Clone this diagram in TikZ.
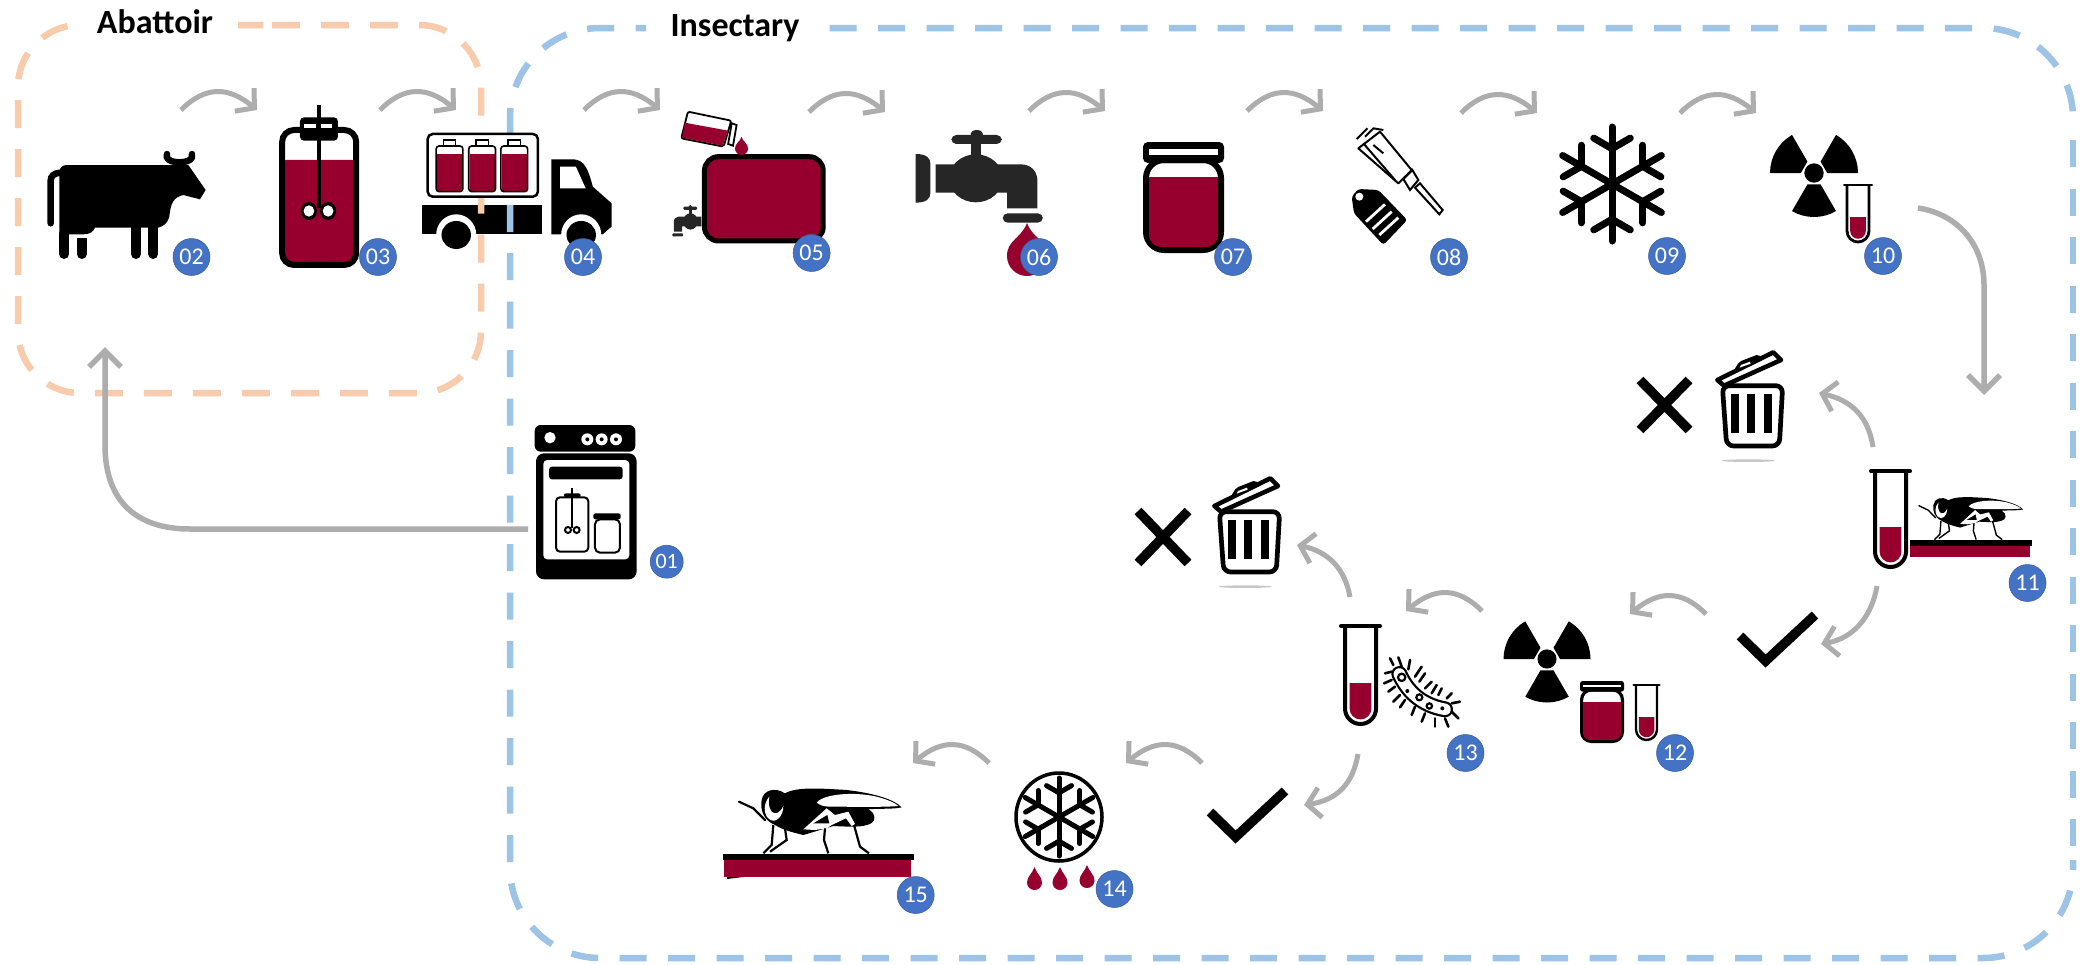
\documentclass[tikz,border=0pt]{standalone}
\usepackage{fontspec}
\setmainfont{Carlito}
\usetikzlibrary{arrows.meta}
\definecolor{crim}{HTML}{97002E}
\definecolor{peach}{HTML}{F8CBAD}
\definecolor{skyb}{HTML}{9DC3E6}
\definecolor{arrowg}{HTML}{ADADAD}
\definecolor{badgeb}{HTML}{4472C4}
\definecolor{tapc}{HTML}{262626}
\tikzset{
  x=1pt,y=-1pt,
  zA/.style={x=.4464pt,y=-.3333pt},
  zC/.style={x=.3745pt,y=-.3333pt},
  zF/.style={x=.3333pt,y=-.3333pt},
  badge/.style={circle,fill=badgeb,draw=badgeb!80!black,line width=.5pt,minimum size=37pt,inner sep=0pt,text=white,font=\fontsize{24}{24}\selectfont},
  boxlabel/.style={fill=white,anchor=base,inner xsep=0pt,inner ysep=3pt,font=\fontsize{34}{36}\selectfont\bfseries},
  peachline/.style={draw=peach,line width=6.5pt,dash pattern=on 28pt off 21pt,rounded corners=62pt},
  skyline/.style={draw=skyb,line width=6.5pt,dash pattern=on 27pt off 21.5pt,rounded corners=90pt},
  garrow/.style={draw=arrowg,line width=5pt,-{Straight Barb[length=13pt,width=30pt,line width=5pt]}},
  garrowlong/.style={draw=arrowg,line width=5.5pt,-{Straight Barb[length=16pt,width=32pt,line width=5.5pt]}},
}
% id, start, c1, c2, end
\newcommand\curvearrow[5]{%
  \coordinate (#1s) at (#2);\coordinate (#1e) at (#5);
  \draw[garrow] (#1s) .. controls (#3) and (#4) .. (#1e);}
\newcommand\arcright[3]{% id x y : left to right hump
  \curvearrow{#1}{#2,#3}{#2+24,#3-24}{#2+47,#3-24}{#2+76,#3}}
\newcommand\arcleft[3]{% id x y : right to left hump
  \curvearrow{#1}{#2,#3}{#2-24,#3-24}{#2-47,#3-24}{#2-76,#3}}
\newcommand\tubeicon[6]{% xl xr yt yb yliq lw
  \pgfmathsetmacro\tbR{(#2-#1)/2}
  \pgfmathsetmacro\tbG{#6*1.15}
  \pgfmathsetmacro\tbI{\tbR-\tbG}
  \draw[line width=#6pt,fill=white] (#1,#3) -- (#1,#4-\tbR) arc[start angle=180,end angle=0,radius=\tbR] -- (#2,#3);
  \draw[line width=#6pt,line cap=round] (#1-#6,#3) -- (#2+#6,#3);
  \fill[crim] (#1+\tbG,#5) -- (#1+\tbG,#4-\tbR) arc[start angle=180,end angle=0,radius=\tbI] -- (#2-\tbG,#5) -- cycle;}
\newcommand\jaricon[7]{% xl xr ylidtop ylidbot ybot yliq lw
  \draw[line width=#7pt,fill=white,rounded corners=#7*3pt] (#1+#7*.5,#4) -- (#1+#7*.5,#5-#7*.5) -- (#2-#7*.5,#5-#7*.5) -- (#2-#7*.5,#4) -- cycle;
  \fill[crim,rounded corners=#7*2pt] (#1+#7,#6) -- (#1+#7,#5-#7) -- (#2-#7,#5-#7) -- (#2-#7,#6) -- cycle;
  \fill[crim] (#1+#7,#6) rectangle (#2-#7,#6+#7*3);
  \fill[rounded corners=#7*.8pt] (#1,#3) rectangle (#2,#4+#7*.5);
  \fill[white] (#1+#7,#3+#7*1.1) rectangle (#2-#7,#4-#7*.8);}
\newcommand\radiation[3]{% cx cy R
  \begin{scope}[shift={(#1,#2)}]
  \fill (0,0) circle[radius=.22*#3];
  \foreach \ra in {60,180,300}{
    \fill (\ra:#3*.30) -- (\ra:#3) arc[start angle=\ra,end angle=\ra+60,radius=#3] -- (\ra+60:#3*.30) -- cycle;}
  \end{scope}}
\newcommand\flake[4]{% cx cy R lw
  \begin{scope}[shift={(#1,#2)},line width=#4pt,line cap=round]
  \foreach \fa in {30,90,150,210,270,330}{
    \draw (0,0) -- (\fa:#3);
    \draw (\fa:#3*.62) -- ++(\fa+60:#3*.37);
    \draw (\fa:#3*.62) -- ++(\fa-60:#3*.37);}
  \end{scope}}
\newcommand\dropicon[4]{% cx ytop ybot w
  \fill[crim] (#1,#2) .. controls (#1+.15*#4,#2+.3*#3-.3*#2) and (#1+.5*#4,#3-.9*#4) .. (#1+.5*#4,#3-.5*#4)
    arc[start angle=0,end angle=180,radius=.5*#4]
    .. controls (#1-.5*#4,#3-.9*#4) and (#1-.15*#4,#2+.3*#3-.3*#2) .. cycle;}
\newcommand\tapbody[1]{% corner radius
  \fill[tapc] (640,253) -- (830,253) .. controls (855,253) and (868,275) .. (868,305) -- (868,385) -- (800,385) -- (800,338) -- (640,338) -- cycle;
  \fill[tapc] (730,295) ellipse[x radius=60,y radius=72];
  \fill[tapc] (718,180) rectangle (742,235);
  \fill[tapc,rounded corners=#1] (675,165) rectangle (788,192);
  \fill[tapc] (732,162) ellipse[x radius=14,y radius=12];
  \fill[tapc,rounded corners=#1] (790,400) rectangle (880,428);}
\newcommand\trashicon[2]{% origin x y of a 3x crop
  \begin{scope}[shift={(#1,#2)},zF]
  \draw[line width=4.7pt,rounded corners=7pt,fill=white] (67,122) -- (248,122) -- (238,303) -- (80,303) -- cycle;
  \foreach \bx in {105,153,203}{\draw[line width=8pt] (\bx,148) -- (\bx,265);}
  \draw[line width=4.5pt,fill=white,line join=round] (52,105) -- (220,22) -- (243,45) -- (72,122) -- cycle;
  \fill[rounded corners=2pt] (102,75) -- (118,50) -- (175,28) -- (190,45) -- cycle;
  \fill[white] (119,68) -- (123,60) -- (150,50) -- (152,56) -- cycle;
  \fill[black!22] (145,347) ellipse[x radius=80,y radius=4];
  \end{scope}}
\newcommand\flyicon[5]{% ox oy xunit yunit lw
  \begin{scope}[shift={(#1,#2)},x=#3pt,y=-#4pt]
  \fill (125,90) .. controls (130,60) and (165,50) .. (195,70) .. controls (230,50) and (300,55) .. (380,60) .. controls (450,68) and (520,85) .. (545,112) .. controls (520,118) and (480,115) .. (445,118) .. controls (470,130) and (470,160) .. (440,165) .. controls (420,172) and (380,170) .. (340,168) -- (300,180) -- (250,195) .. controls (210,185) and (190,180) .. (165,165) .. controls (130,150) and (120,120) .. (125,90) -- cycle;
  \fill[white] (290,98) .. controls (310,72) and (400,64) .. (470,80) .. controls (500,88) and (525,98) .. (535,108) .. controls (490,112) and (400,110) .. (330,110) .. controls (310,110) and (300,105) .. (290,98) -- cycle;
  \fill[white] (148,80) .. controls (130,100) and (130,130) .. (145,145) .. controls (165,165) and (190,140) .. (190,108) .. controls (180,130) and (165,135) .. (155,125) .. controls (145,110) and (145,95) .. (148,80) -- cycle;
  \fill[white] (250,178) -- (320,115) -- (345,135) -- (385,125) -- (405,162) -- (395,168) -- (378,145) -- (335,165) -- (320,175) -- (285,180) -- cycle;
  \fill (280,160) -- (322,135) -- (328,160) -- cycle;
  \draw[line width=#5pt,line cap=round] (57,95) -- (100,115) -- (135,150);
  \draw[line width=#5pt] (160,165) -- (155,225) -- (130,250);
  \draw[line width=#5pt] (195,175) -- (200,210) -- (150,245);
  \draw[line width=#5pt] (315,175) -- (312,210) -- (325,250);
  \draw[line width=#5pt] (402,165) -- (420,230) -- (447,250);
  \end{scope}}
\begin{document}
\begin{tikzpicture}
\useasboundingbox (0,0) rectangle (2087,964);
\fill[white] (0,0) rectangle (2087,964);
% truck bed and cab, under the dashed boxes
\begin{scope}[zA]
\fill (945,615) rectangle (1215,703);
\fill (1235,478) -- (1285,478) .. controls (1310,480) and (1318,510) .. (1328,560) -- (1370,610) -- (1370,680) -- (1350,703) -- (1235,703) -- cycle;
\fill[white] (1255,500) -- (1290,500) -- (1312,565) -- (1255,565) -- cycle;
\fill[white] (1022,705) ellipse[x radius=45,y radius=62];
\fill (1022,705) ellipse[x radius=33,y radius=42];
\fill[white] (1302,705) ellipse[x radius=45,y radius=62];
\fill (1302,705) ellipse[x radius=33,y radius=42];
\end{scope}
% dashed boxes
\draw[peachline] (272,25) -- (481,25) -- (481,393) -- (18,393) -- (18,25) -- (272,25);
\draw[skyline] (510,232) -- (510,28) -- (2073,28) -- (2073,120);
\draw[skyline,rounded corners=0pt] (2073,140) -- (2073,870);
\draw[skyline] (510,253) -- (510,958) -- (2073,958) -- (2073,860);
\node[boxlabel,minimum width=166pt] (abattoir) at (155,33) {Abattoir};
\node[boxlabel,minimum width=179pt] (insectary) at (735,36) {Insectary};
% tank 03 and truck cargo
\begin{scope}[zA]
\fill[white] (632,390) rectangle (798,795);
\fill[crim,rounded corners=4pt] (632,480) rectangle (798,790);
\draw[line width=6pt,rounded corners=12pt] (632,390) rectangle (798,795);
\draw[line width=4pt] (715,315) -- (715,625);
\fill (692,633) ellipse[x radius=18,y radius=27];
\fill (735,633) ellipse[x radius=18,y radius=27];
\fill[white] (692,633) ellipse[x radius=12,y radius=17];
\fill[white] (735,633) ellipse[x radius=12,y radius=17];
\fill[rounded corners=4pt] (672,352) rectangle (757,422);
\fill[white] (682,372) rectangle (708,385);
\fill[white] (720,372) rectangle (743,385);
\draw[line width=4pt] (715,380) -- (715,625);
\draw[line width=2.5pt,fill=white,rounded corners=5pt] (958,402) rectangle (1205,590);
\foreach \bx in {977,1050,1122}{
  \fill[crim] (\bx+3,462) rectangle (\bx+58,572);
  \draw[line width=1.6pt,rounded corners=3pt] (\bx,438) rectangle (\bx+60,575);
  \draw[line width=1.4pt,fill=white] (\bx+16,420) rectangle (\bx+44,436);}
\end{scope}
% cow 02
\begin{scope}[shift={(40,140)},zF]
\fill (58,95) .. controls (60,82) and (68,75) .. (80,75) -- (445,75) -- (497,150) -- (480,178) -- (430,165) .. controls (400,172) and (392,190) .. (388,230) .. controls (382,250) and (372,258) .. (355,263) -- (165,263) .. controls (160,275) and (150,283) .. (130,283) -- (58,283) -- cycle;
\draw[line width=10pt,line cap=round] (73,280) -- (73,342);
\draw[line width=10pt,line cap=round] (288,260) -- (288,342);
\draw[line width=10pt,line cap=round] (340,260) -- (340,342);
\fill (110,293) rectangle (140,315);
\draw[line width=10pt,line cap=round] (125,310) -- (125,342);
\draw[line width=6.5pt,line cap=round] (32,250) -- (32,122) .. controls (32,108) and (42,100) .. (60,98);
\draw[line width=6.5pt,line cap=round] (381,42) -- (381,52) .. controls (386,72) and (450,72) .. (456,52) -- (456,42);
\end{scope}
% tank 05 and tap 06
\begin{scope}[shift={(650,80)},zA]
\draw[line width=5pt,fill=crim,rounded corners=14pt] (122,230) rectangle (388,483);
\draw[line width=1.8pt,fill=white,rounded corners=2pt] (85,95) -- (182,122) -- (165,200) -- (70,175) -- cycle;
\fill[crim] (78,128) -- (175,152) -- (163,197) -- (72,173) -- cycle;
\draw[line width=1.8pt,fill=white] (183,130) -- (194,135) -- (186,197) -- (175,192) -- cycle;
\fill[tapc] (595,222) .. controls (620,222) and (628,235) .. (628,250) -- (628,340) .. controls (628,355) and (620,368) .. (595,368) -- cycle;
\tapbody{5pt}
\end{scope}
\dropicon{741.5}{137}{155}{13}
\begin{scope}[shift={(778.4,188)},x=-.1205pt,y=-.1133pt]
\tapbody{1pt}
\end{scope}
\dropicon{1027}{223}{276}{40}
% jar 07
\jaricon{1143}{1224}{142}{160}{253}{177}{6}
% pipette and tag 08
\begin{scope}[shift={(1330,115)},zF]
\draw[line width=2pt,line join=round] (85,100) -- (150,50) -- (245,165) -- (205,205) -- cycle;
\draw[line width=2pt] (100,85) -- (195,195);
\draw[line width=2pt] (130,90) -- (160,115);
\draw[line width=2pt,fill=white] (220,192) -- (247,165) -- (265,195) -- (240,225) -- cycle;
\draw[line width=2pt,fill=white] (255,218) -- (270,205) -- (338,285) -- (328,298) -- cycle;
\draw[line width=2pt] (80,72) -- (112,40);
\draw[line width=2pt] (105,65) -- (130,40) -- (160,45);
\fill[rounded corners=3pt] (65,245) -- (85,222) -- (145,225) -- (232,315) -- (160,390) -- (72,295) -- cycle;
\fill[white] (88,245) circle[radius=12];
\draw[white,line width=2.8pt] (108,320) -- (165,268) (128,342) -- (185,290) (148,360) -- (205,308);
\end{scope}
% snowflake 09
\flake{1612}{184}{57}{7}
% radiation and tube 10
\radiation{1814}{173}{44}
\tubeicon{1847}{1869}{185}{242}{217}{2.8}
% trash and X marks
\trashicon{1700}{345}
\draw[line width=9.5pt] (1640,380) -- (1689,430) (1689,380) -- (1640,430);
\trashicon{1197}{471}
\draw[line width=9.5pt] (1138,511) -- (1188,563) (1188,511) -- (1138,563);
% tube and fly 11
\tubeicon{1875}{1906}{471}{567}{527}{4}
\flyicon{1906.8}{485}{.2133}{.2183}{1.4}
\fill (1910,540) rectangle (2032,545.5);
\fill[crim] (1910,546) rectangle (2030,557);
% checks
\draw[line width=9.5pt,miter limit=4] (1740,636) -- (1765.6,661) -- (1815,615);
\draw[line width=9.5pt,miter limit=4] (1210,812) -- (1235.6,837) -- (1285,791);
% radiation, jar, tube 12
\radiation{1547}{659}{43.5}
\jaricon{1580}{1624}{681}{690}{743}{702}{3.2}
\tubeicon{1636}{1657}{685}{740}{717}{2.4}
% tube and bacterium 13
\tubeicon{1345}{1376}{626}{724}{683}{4}
\begin{scope}[shift={(1380,650)},zF]
\foreach \sa/\sb/\ea/\eb in {40/45/30/25,65/50/55/22,85/58/90/30,105/80/125/50,118/95/135/70,135/115/155/95,155/130/170/105,175/135/185/115,200/145/215/130,215/160/240/155,35/65/15/70,35/90/12/100,45/110/25/125,60/135/40/155,75/150/60/172,105/170/95/195,135/190/125/215,165/205/165/230,195/205/205/230,215/185/235/205}{
  \draw[line width=2.6pt,line cap=round] (\sa,\sb) -- (\ea,\eb);}
\draw[line width=16pt,line cap=round] (58,72) .. controls (80,120) and (120,165) .. (195,178);
\draw[white,line width=11.5pt,line cap=round] (58,72) .. controls (80,120) and (120,165) .. (195,178);
\draw[line width=2.2pt] (65,82) circle[radius=11];
\fill (82,123) circle[radius=6];
\draw[line width=2.2pt] (118,142) circle[radius=9];
\draw[line width=2.2pt] (148,168) circle[radius=8];
\fill (187,175) circle[radius=6];
\end{scope}
% frozen 14
\draw[line width=3.5pt] (1059,817) ellipse[x radius=43,y radius=44];
\flake{1059}{817}{39}{5}
\dropicon{1034.5}{867}{890}{15}
\dropicon{1060}{867}{890}{15}
\dropicon{1087}{865}{888}{15}
% fly 15
\flyicon{720}{770}{.3333}{.3333}{2.2}
\fill (723,854) rectangle (914,859.5);
\fill[crim] (724,859.5) rectangle (911,877);
\fill (727,879) -- (743,877) -- (727,877) -- cycle;
% oven 01
\begin{scope}[shift={(500,400)},zF]
\fill[rounded corners=6pt] (104,75) rectangle (406,155);
\fill[white] (150,113) circle[radius=17];
\foreach \kx in {262,305,348}{
  \fill[white] (\kx,118) circle[radius=18];
  \fill (\kx,118) circle[radius=6];}
\fill[rounded corners=8pt] (108,160) rectangle (410,538);
\fill[white,rounded corners=4pt] (130,180) rectangle (388,478);
\fill[rounded corners=3pt] (147,200) rectangle (368,238);
\draw[line width=2pt,rounded corners=4pt] (168,292) rectangle (265,455);
\fill[rounded corners=2pt] (192,280) rectangle (242,292);
\draw[line width=2pt] (217,265) -- (217,385);
\draw[line width=2pt,fill=white] (204,390) circle[radius=9] (230,390) circle[radius=9];
\fill[rounded corners=2pt] (280,340) rectangle (362,358);
\draw[line width=2pt,rounded corners=5pt] (285,358) rectangle (360,458);
\end{scope}
% badges
\node[badge] (b02) at (191.5,257) {02};
\node[badge] (b03) at (378,257) {03};
\node[badge] (b04) at (583,257) {04};
\node[badge] (b05) at (811.6,253) {05};
\node[badge] (b06) at (1039,257) {06};
\node[badge] (b07) at (1233,257) {07};
\node[badge] (b08) at (1449,257) {08};
\node[badge] (b09) at (1667,256) {09};
\node[badge] (b10) at (1883,256) {10};
\node[badge] (b11) at (2027.5,583) {11};
\node[badge] (b12) at (1675,753) {12};
\node[badge] (b13) at (1465.5,753) {13};
\node[badge] (b14) at (1114.5,889) {14};
\node[badge] (b15) at (915.7,895) {15};
\node[badge,minimum size=33pt,font=\fontsize{22}{22}\selectfont] (b01) at (666.7,561.7) {01};
% arrows
\arcright{a1}{181}{110}
\arcright{a2}{380}{110}
\arcright{a3}{584}{110}
\arcright{a4}{809}{112}
\arcright{a5}{1029}{111}
\arcright{a6}{1247}{111}
\arcright{a7}{1461}{113}
\arcright{a8}{1680}{113}
\arcleft{a9}{1706}{614}
\arcleft{a10}{1482}{611}
\arcleft{a11}{1202}{763}
\arcleft{a12}{989}{763}
\curvearrow{a13}{1873,447}{1868,415}{1850,400}{1819,393}
\curvearrow{a14}{1877,586}{1872,615}{1855,638}{1821,644}
\curvearrow{a15}{1350,597}{1345,570}{1330,552}{1297,545}
\curvearrow{a16}{1358,754}{1353,783}{1338,800}{1304,805}
\coordinate (long1s) at (528,529);
\coordinate (long1a) at (190,529);
\coordinate (long1b) at (105,445);
\coordinate (long1e) at (105,347);
\draw[garrowlong] (long1s) -- (long1a) .. controls (135,529) and (105,500) .. (long1b) -- (long1e);
\coordinate (long2s) at (1918,208);
\coordinate (long2a) at (1984,285);
\coordinate (long2e) at (1984,395);
\draw[garrowlong] (long2s) .. controls (1958,214) and (1984,245) .. (long2a) -- (long2e);
\end{tikzpicture}
\end{document}
